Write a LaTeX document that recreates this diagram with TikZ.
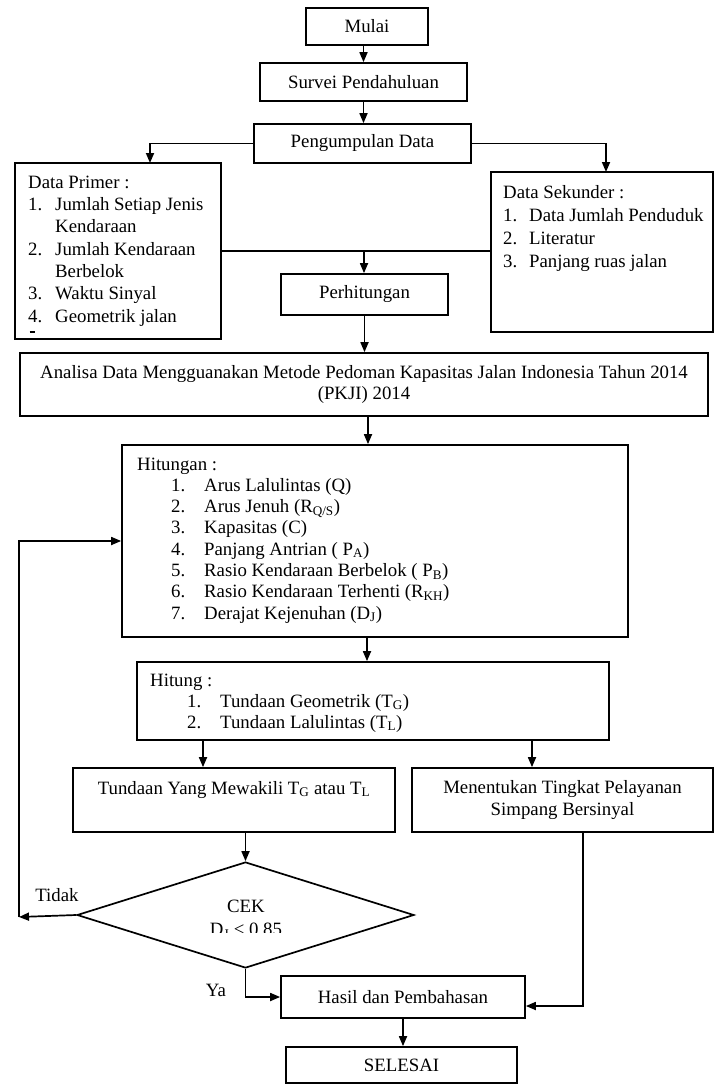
\documentclass[tikz,border=0pt]{standalone}
\usepackage{fontspec}
\setmainfont{Liberation Serif}
\usetikzlibrary{arrows.meta,shapes.geometric,calc}
\begin{document}
\begin{tikzpicture}[x=1pt,y=-1pt,
  every node/.style={font=\fontsize{18.8}{21.5}\selectfont},
  box/.style={draw, line width=1.7pt, inner sep=0pt, align=center},
  arr/.style={line width=1.7pt, -{Triangle[length=10pt,width=8pt]}},
  ln/.style={line width=1.7pt},
  lbl/.style={inner sep=0pt}]
\useasboundingbox (0,0) rectangle (714,1084);

% boxes
\node[box, minimum width=122, minimum height=37] (mulai) at (367,26.5) {Mulai};
\node[box, minimum width=207, minimum height=38] (survei) at (363.5,82) {Survei Pendahuluan};
\node[box, minimum width=217, minimum height=39] (peng) at (362.5,143.5) {Pengumpulan Data};
\node[box, minimum width=206, minimum height=176] (dp) at (118,251) {};
\node[box, minimum width=222, minimum height=160] (ds) at (602,252) {};
\node[box, minimum width=167, minimum height=41] (perh) at (364.5,294.5) {Perhitungan};
\node[box, minimum width=688, minimum height=63] (an) at (364,384.5)
  {Analisa Data Mengguanakan Metode Pedoman Kapasitas Jalan Indonesia Tahun 2014\\(PKJI) 2014};
\node[box, minimum width=506, minimum height=192] (hitungan) at (375,541) {};
\node[box, minimum width=472, minimum height=78] (hitung) at (373,701) {};
\node[box, minimum width=322, minimum height=64] (tund) at (234,800) {};
\node[box, minimum width=301, minimum height=64] (ment) at (562.5,800)
  {Menentukan Tingkat Pelayanan\\Simpang Bersinyal};
\node[draw, diamond, line width=1.7pt, inner sep=0pt, minimum width=337, minimum height=106] (cek) at (245.5,915) {};
\node[box, minimum width=244, minimum height=42] (hasil) at (403,997) {Hasil dan Pembahasan};
\node[box, minimum width=231, minimum height=36] (sel) at (401.5,1065) {SELESAI};

% texts inside boxes
\node[lbl, anchor=base west] (dpt) at (28,188) {\renewcommand{\arraystretch}{1.04}%
  \begin{tabular}[t]{@{}p{27pt}@{}l@{}}
  \multicolumn{2}{@{}l@{}}{Data Primer :}\\
  1. & Jumlah Setiap Jenis\\
     & Kendaraan\\
  2. & Jumlah Kendaraan\\
     & Berbelok\\
  3. & Waktu Sinyal\\
  4. & Geometrik jalan
  \end{tabular}};
\draw[line width=1.3pt] (29.5,332) -- (35,332);
\node[lbl, anchor=base west] (dst) at (503,198) {\renewcommand{\arraystretch}{1.07}%
  \begin{tabular}[t]{@{}p{26pt}@{}l@{}}
  \multicolumn{2}{@{}l@{}}{Data Sekunder :}\\
  1. & Data Jumlah Penduduk\\
  2. & Literatur\\
  3. & Panjang ruas jalan
  \end{tabular}};
\node[lbl, anchor=base west] (hgt) at (137,470) {\renewcommand{\arraystretch}{0.99}%
  \begin{tabular}[t]{@{}p{34pt}@{}p{33pt}@{}l@{}}
  \multicolumn{3}{@{}l@{}}{Hitungan :}\\
  & 1. & Arus Lalulintas (Q)\\
  & 2. & Arus Jenuh (R\textsubscript{Q/S})\\
  & 3. & Kapasitas (C)\\
  & 4. & Panjang Antrian ( P\textsubscript{A})\\
  & 5. & Rasio Kendaraan Berbelok ( P\textsubscript{B})\\
  & 6. & Rasio Kendaraan Terhenti (R\textsubscript{KH})\\
  & 7. & Derajat Kejenuhan (D\textsubscript{J})
  \end{tabular}};
\node[lbl, anchor=base west] (htt) at (150,686) {\renewcommand{\arraystretch}{0.98}%
  \begin{tabular}[t]{@{}p{37pt}@{}p{33pt}@{}l@{}}
  \multicolumn{3}{@{}l@{}}{Hitung :}\\
  & 1. & Tundaan Geometrik (T\textsubscript{G})\\
  & 2. & Tundaan Lalulintas (T\textsubscript{L})
  \end{tabular}};
\node[lbl, anchor=base] (tundt) at (234,794) {Tundaan Yang Mewakili T\textsubscript{G} atau T\textsubscript{L}};
\begin{scope}
  \clip (150,890) rectangle (350,932);
  \node[lbl, align=center] (cekt) at (246,919) {CEK\\[1.5pt]D\textsubscript{J} < 0.85};
\end{scope}
\node[lbl] (tidak) at (57,895) {Tidak};
\node[lbl] (ya) at (216,990) {Ya};

% connectors
\draw[arr] (mulai.south -| survei.north) -- (survei.north);
\draw[arr] (survei.south) -- (survei.south |- peng.north);
\coordinate (dpin) at (150,163);
\draw[arr] (peng.west) -| (dpin);
\coordinate (dsin) at (606,172);
\draw[arr] (peng.east) -| (dsin);
\draw[ln] (dp.east) -- (dp.east -| ds.west);
\coordinate (jn) at (364,251);
\draw[arr] (jn) -- (jn |- perh.north);
\draw[arr] (perh.south) -- (perh.south |- an.north);
\coordinate (a1) at (368,416);
\draw[arr] (a1) -- (a1 |- hitungan.north);
\coordinate (h1) at (367,637);
\draw[arr] (h1) -- (h1 |- hitung.north);
\coordinate (h2) at (203,740);
\draw[arr] (h2) -- (h2 |- tund.north);
\coordinate (h3) at (532,740);
\draw[arr] (h3) -- (h3 |- ment.north);
\draw[arr] (cek.north |- tund.south) -- (cek.north);
\coordinate (lp) at (19,917);
\draw[arr] (cek.west) -- (lp);
\draw[arr] (lp) |- (hitungan.west);
\draw[arr] (cek.south) |- (hasil.west);
\coordinate (m1) at (583,832);
\coordinate (m2) at (583,1006);
\draw[arr] (m1) -- (m2) -- (m2 -| hasil.east);
\draw[arr] (hasil.south) -- (hasil.south |- sel.north);
\end{tikzpicture}
\end{document}
